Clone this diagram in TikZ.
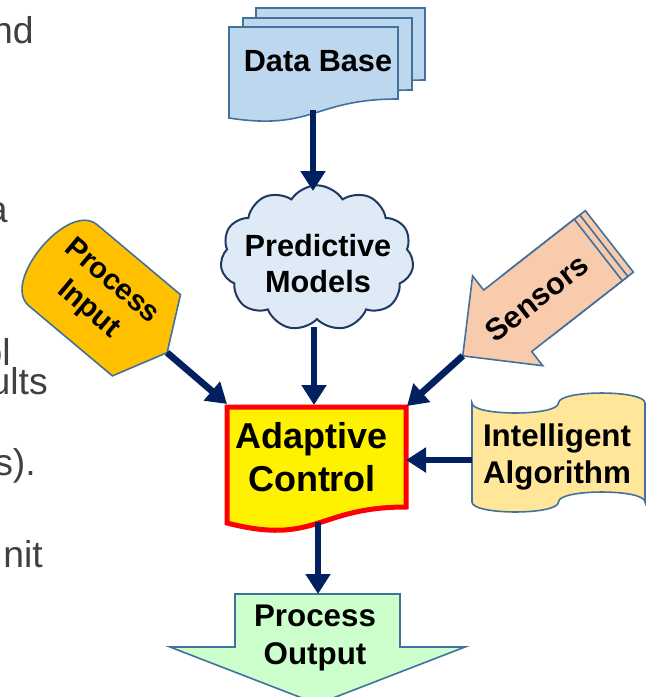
\documentclass[tikz,border=0pt]{standalone}
\usepackage{fontspec}
\setmainfont{Liberation Sans}
\usetikzlibrary{arrows.meta,shapes.symbols}
\definecolor{navyarrow}{HTML}{002060}
\definecolor{edgeblue}{HTML}{41719C}
\definecolor{dbfill}{HTML}{BDD7EE}
\definecolor{cloudfill}{HTML}{DEEBF7}
\definecolor{cloudedge}{HTML}{203864}
\definecolor{pifill}{HTML}{FFC000}
\definecolor{sensfill}{HTML}{F8CBAD}
\definecolor{iafill}{HTML}{FFE699}
\definecolor{pofill}{HTML}{CCFFCC}
\definecolor{fraggray}{HTML}{404040}
\begin{document}
\begin{tikzpicture}[x=0.75pt,y=-0.75pt,
  conn/.style={draw=navyarrow, line width=5pt, -{Triangle[length=15pt,width=18pt]}},
  shp/.style={draw=edgeblue, line width=1.2pt},
  lbl/.style={font=\bfseries\fontsize{23}{27}\selectfont, align=center, inner sep=0pt, text=black},
  frag/.style={font=\fontsize{28}{30}\selectfont, text=fraggray, anchor=base east, inner sep=0pt}]
\useasboundingbox (0,0) rectangle (648,697);

% left text fragments (cut by the page edge)
\begin{scope}
\clip (0,0) rectangle (648,697);
\node[frag] (f1) at (34,43) {nd};
\node[frag] (f2) at (8,222) {a};
\node[frag] (f3) at (11,365) {ol};
\node[frag] (f4) at (48,394) {ults};
\node[frag] (f5) at (36,475) {s).};
\node[frag] (f6) at (43,567) {nit};
\end{scope}

% Data Base (multi-document)
\foreach \sx/\sy in {27/-19,14/-9,0/0}{
  \begin{scope}[shift={(\sx,\sy)}]
  \path[shp, fill=dbfill] (229,27) -- (398,27) -- (398,99) .. controls (313.5,99) and (313.5,131) .. (229,118) -- cycle;
  \end{scope}
}
\node[lbl] (db) at (318,61) {Data Base};
\coordinate (dbS) at (313,110);

% Predictive Models (cloud)
\node[cloud, cloud puffs=11, cloud puff arc=115, cloud ignores aspect, draw=cloudedge, fill=cloudfill, line width=1.5pt,
      minimum width=145pt, minimum height=109pt, inner sep=0pt] (pm) at (317,258) {};
\node[lbl] (pmt) at (318,264) {Predictive\\Models};
\coordinate (pmN) at (313,191);
\coordinate (pmS) at (314,327);

% Adaptive Control (document)
\path[fill=yellow, draw=red, line width=3.75pt] (227,407) -- (406,407) -- (406,507) .. controls (316.5,507) and (316.5,546) .. (227,523) -- cycle;
\node[lbl, font=\bfseries\fontsize{27}{32}\selectfont] (ac) at (312,457) {Adaptive\\Control};
\coordinate (acN) at (314,405);
\coordinate (acNW) at (227,404);
\coordinate (acNE) at (407,406);
\coordinate (acE) at (406,460);
\coordinate (acS) at (318,522);

% Process Input (display shape, rotated)
\begin{scope}[shift={(102,298)}, rotate=-40]
  \path[shp, fill=pifill] (-51,-53) -- (58,-53) -- (85,0) -- (58,53) -- (-51,53) .. controls (-88.3,53) and (-88.3,-53) .. (-51,-53) -- cycle;
  \node[lbl, rotate=-40, font=\bfseries\fontsize{22}{27}\selectfont] (pi) at (-3,0) {Process\\Input};
  \coordinate (piT) at (85,0);
\end{scope}

% Sensors (stacked left arrow, rotated)
\begin{scope}[shift={(598.3,250)}, rotate=38]
  \foreach \d in {14,7}{
    \path[shp, fill=sensfill, shift={(\d,0)}] (0,-39) -- (-100,-39) -- (-100,39) -- (0,39) -- cycle;
  }
  \path[shp, fill=sensfill] (0,-39) -- (-115,-39) -- (-115,-57) -- (-172,0) -- (-115,57) -- (-115,39) -- (0,39) -- cycle;
  \node[lbl, rotate=38] (sen) at (-78,0) {Sensors};
  \coordinate (senT) at (-172,0);
\end{scope}

% Intelligent Algorithm (punched tape)
\path[shp, fill=iafill] (472,403) .. controls (472,416.3) and (558.5,416.3) .. (558.5,403)
  .. controls (558.5,389.7) and (645,389.7) .. (645,403) -- (645,502)
  .. controls (645,488.7) and (558.5,488.7) .. (558.5,502)
  .. controls (558.5,515.3) and (472,515.3) .. (472,502) -- cycle;
\node[lbl, font=\bfseries\fontsize{23.5}{27.75}\selectfont] (ia) at (557,457) {Intelligent\\Algorithm};
\coordinate (iaW) at (472,460);

% Process Output (down arrow)
\path[shp, fill=pofill] (235,594) -- (400,594) -- (400,647) -- (465,647) -- (317.5,704) -- (170,647) -- (235,647) -- cycle;
\node[lbl, font=\bfseries\fontsize{23.5}{29}\selectfont] (po) at (315,638) {Process\\Output};
\coordinate (poN) at (318,594);

% connectors
\draw[conn] (dbS) -- (pmN);
\draw[conn] (pmS) -- (acN);
\draw[conn] (piT) -- (acNW);
\draw[conn] (senT) -- (acNE);
\draw[conn] (iaW) -- (acE);
\draw[conn] (acS) -- (poN);
\end{tikzpicture}
\end{document}
